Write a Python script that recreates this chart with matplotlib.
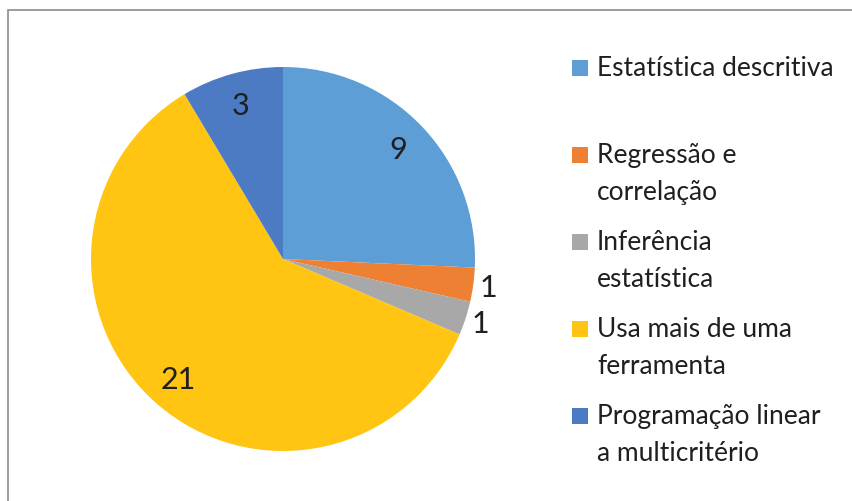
import numpy as np
import matplotlib.pyplot as plt
from matplotlib.patches import Rectangle

# Ferramentas estatísticas usadas
categorias = ['Estatística descritiva', 'Regressão e\ncorrelação', 'Inferência\nestatística',
              'Usa mais de uma\nferramenta', 'Programação linear\na multicritério']
valores = [9, 1, 1, 21, 3]
cores = ['#5E9ED7', '#EE8034', '#A8A8A8', '#FFC512', '#4C7BC3']

W, H = 852, 502
plt.rcParams['font.family'] = ['Lato', 'DejaVu Sans']


def fx(px):
    return px / W


def fy(py):
    return 1 - py / H


fig = plt.figure(figsize=(W / 100, H / 100), dpi=100)

# moldura cinza do gráfico
fig.patches.append(Rectangle((fx(8), fy(600)), 1.2, fy(11) - fy(600), transform=fig.transFigure,
                             fill=False, edgecolor='#8C8C8C', linewidth=1.2))

# pizza: centro (283, 260), raio 192 px
cx, cy, r = 283, 260, 192
ax = fig.add_axes([fx(cx - r), fy(cy + r), 2 * r / W, 2 * r / H])
wedges, _ = ax.pie(valores, colors=cores, startangle=90, counterclock=False,
                   wedgeprops=dict(linewidth=0))
ax.set_xlim(-1, 1)
ax.set_ylim(-1, 1)
ax.set_aspect('equal')
ax.axis('off')

for w, v in zip(wedges, valores):
    ang = np.deg2rad((w.theta1 + w.theta2) / 2)
    dist = 0.83 if v > 1 else 1.08
    ax.text(dist * np.cos(ang), dist * np.sin(ang), str(v), ha='center', va='center',
            fontsize=22, color='#1F1F1F')

# legenda
sq = 16
for i, (lab, cor) in enumerate(zip(categorias, cores)):
    yc = 69 + 87 * i
    fig.patches.append(Rectangle((fx(572), fy(yc + sq / 2)), sq / W, sq / H,
                                 transform=fig.transFigure, facecolor=cor, edgecolor='none'))
    for j, linha in enumerate(lab.split('\n')):
        fig.text(fx(597), fy(yc + 7 + 37 * j), linha, ha='left', va='baseline',
                 fontsize=19, color='#1F1F1F')

fig.savefig('out.png', dpi=100)
